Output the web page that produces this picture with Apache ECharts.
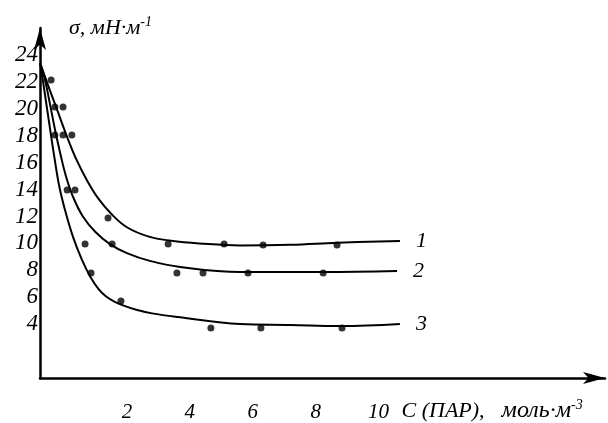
<!DOCTYPE html>
<html>
<head>
<meta charset="utf-8">
<script src="https://cdn.jsdelivr.net/npm/echarts@6/dist/echarts.min.js"></script>
<style>html,body{margin:0;padding:0;background:#fff;}#c{width:608px;height:423px;}</style>
</head>
<body>
<div id="c"></div>
<script>
// Tick labels
var xTicks = [2, 4, 6, 8, 10];
var yTicks = [4, 6, 8, 10, 12, 14, 16, 18, 20, 22, 24];
var curveNames = ['1', '2', '3'];

// Fitted curves [C, sigma]
var curve1 = [[-0.76,23.4],[-0.5,21.7],[-0.2,19.8],[0.1,17.9],[0.4,16.2],[0.75,14.6],[1.1,13.3],[1.5,12.2],[2.0,11.2],[2.7,10.5],[3.4,10.2],[4.3,10.0],[5.6,9.85],[7.2,9.9],[8.7,10.05],[10.68,10.18]];
var curve2 = [[-0.76,23.4],[-0.6,22.1],[-0.45,20.4],[-0.29,18.5],[-0.12,16.7],[0.06,15.0],[0.28,13.5],[0.6,12.0],[1.0,10.85],[1.46,9.95],[2.0,9.28],[2.73,8.7],[3.69,8.25],[5.6,7.88],[8.24,7.88],[10.59,7.95]];
var curve3 = [[-0.76,23.4],[-0.684,22.29],[-0.556,20.28],[-0.429,18.28],[-0.318,16.57],[-0.159,14.34],[0.032,12.48],[0.286,10.48],[0.572,8.77],[0.84,7.5],[1.1,6.6],[1.34,6.05],[1.6,5.68],[1.9,5.38],[2.3,5.07],[2.8,4.8],[3.625,4.53],[5.6,4.01],[7.19,3.94],[8.78,3.86],[10.68,4.01]];

// Measured points
var points1 = [[0.25,18.05],[0.35,13.97],[1.40,11.89],[3.31,9.96],[5.09,9.96],[6.33,9.88],[8.68,9.88]];
var points2 = [[-0.03,20.13],[-0.03,18.05],[0.10,13.97],[1.53,9.96],[3.59,7.80],[4.42,7.80],[5.85,7.80],[8.24,7.80]];
var points3 = [[-0.41,22.14],[-0.29,20.13],[-0.29,18.05],[0.67,9.96],[0.86,7.80],[1.81,5.72],[4.67,3.71],[6.26,3.71],[8.84,3.71]];

var FONT = 'Liberation Serif';
var chart = echarts.init(document.getElementById('c'), null, {renderer: 'canvas'});

function lineSeries(data, label) {
  return {
    type: 'line', data: data, smooth: 0.4, symbol: 'none', silent: true,
    lineStyle: {color: '#000', width: 2},
    endLabel: {show: true, formatter: label, distance: 16, color: '#000',
      fontFamily: FONT, fontStyle: 'italic', fontSize: 22}
  };
}
function dotSeries(data) {
  return {type: 'scatter', data: data, symbolSize: 7, itemStyle: {color: '#000'}, silent: true};
}

chart.setOption({
  animation: false,
  backgroundColor: '#fff',
  grid: {left: 40, right: 3, top: 28, bottom: 45, containLabel: false, outerBoundsMode: 'none'},
  xAxis: {
    type: 'value', min: -0.763, max: 17.2,
    splitLine: {show: false},
    axisLine: {show: true, symbol: ['none', 'arrow'], symbolSize: [9, 22], lineStyle: {color: '#000', width: 2.5}},
    axisTick: {show: false},
    axisLabel: {customValues: xTicks, margin: 24, color: '#000', fontFamily: FONT, fontStyle: 'italic', fontSize: 21},
    name: '{t|C (ПАР),  }{m|моль·м}{s|-3}',
    nameLocation: 'middle', nameGap: 33, nameMoveOverlap: false,
    nameTextStyle: {align: 'left', verticalAlign: 'middle', padding: [0, 0, 0, 79],
      rich: {t: {fontFamily: FONT, fontStyle: 'italic', fontSize: 22, color: '#000'},
             m: {fontFamily: FONT, fontStyle: 'italic', fontSize: 24, color: '#000', padding: [0, 0, 0, 6]},
             s: {fontFamily: FONT, fontStyle: 'italic', fontSize: 14, color: '#000', padding: [0, 0, 11, 0]}}}
  },
  yAxis: {
    type: 'value', min: 0, max: 26,
    splitLine: {show: false},
    axisLine: {show: true, onZero: false, symbol: ['none', 'arrow'], symbolSize: [9, 22], lineStyle: {color: '#000', width: 2.5}},
    axisTick: {show: false},
    axisLabel: {customValues: yTicks, margin: 2, color: '#000', fontFamily: FONT, fontStyle: 'italic', fontSize: 23},
    name: '{t|σ, мН·м}{s|-1}',
    nameLocation: 'end', nameGap: 0, nameMoveOverlap: false,
    nameTextStyle: {align: 'left', verticalAlign: 'middle', padding: [0, 0, 0, 29],
      rich: {t: {fontFamily: FONT, fontStyle: 'italic', fontSize: 22, color: '#000'},
             s: {fontFamily: FONT, fontStyle: 'italic', fontSize: 14, color: '#000', padding: [0, 0, 11, 0]}}}
  },
  series: [
    lineSeries(curve1, curveNames[0]),
    lineSeries(curve2, curveNames[1]),
    lineSeries(curve3, curveNames[2]),
    dotSeries(points1), dotSeries(points2), dotSeries(points3)
  ]
});
</script>
</body>
</html>
